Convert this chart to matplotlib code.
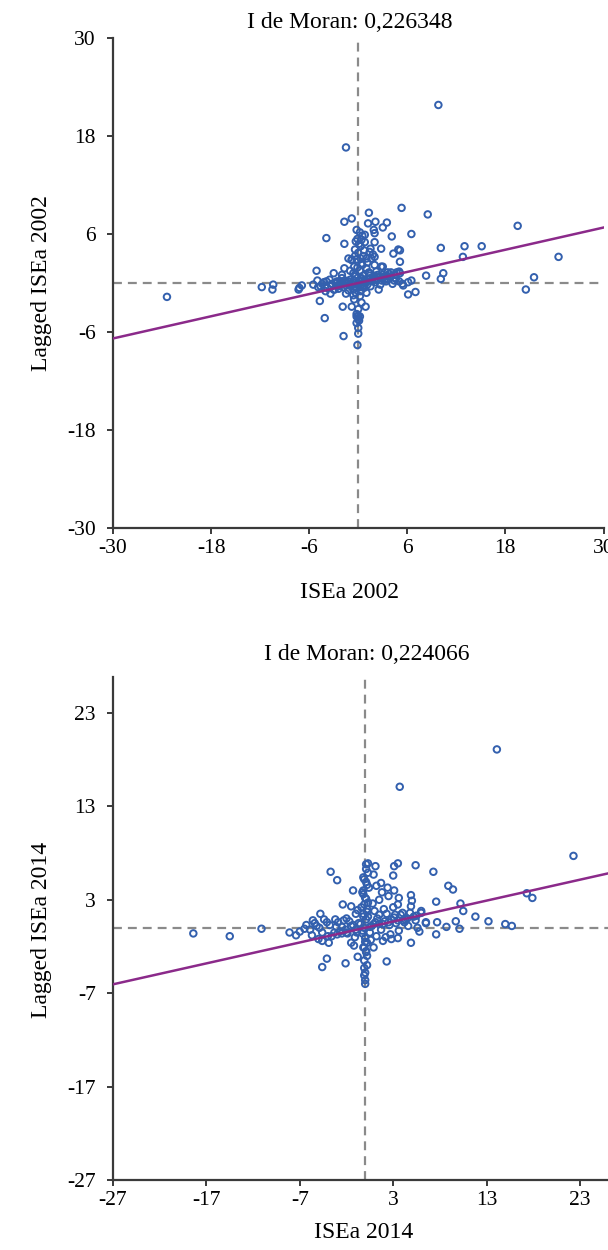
import matplotlib
matplotlib.use("Agg")
import matplotlib.pyplot as plt
import numpy as np

plt.rcParams['font.family'] = ['Liberation Serif', 'DejaVu Serif']
plt.rcParams['axes.unicode_minus'] = False

# ISEa 2002 vs lagged ISEa 2002
x2002 = [9.8, -1.5, -23.4, -11.8, -10.4, -10.5, -7.3, -6.9, 5.3, 8.5, 6.5, 19.5, 10.1, 13.0,
         15.1, 12.8, 8.3, 10.4, 10.1, 21.5, 20.5, 24.5, 5.1, 5.1, 5.1, 6.1, 7.0, 5.4, 6.1, 6.5,
         1.3, -0.8, -1.7, 1.2, 2.1, 3.5, 3.0, 1.9, -0.2, 2.0, 0.8, -3.9, 4.1, 2.0, -1.7, 4.9,
         4.3, 2.0, -0.8, -5.1, -1.7, 2.8, 4.7, -7.2, -4.9, -4.7, -3.4, -1.9, -0.8, 0.9, -4.1,
         -0.2, 0.0, 0.0, 0.0, -1.8, -0.1, 1.4, 1.6, 3.6, -0.8, -0.2, 0.2, 0.0,
         -5.5, -5.0, -4.6, -4.2, -3.8, -3.5, -3.2, -2.9, -2.6, -2.3, -2.0, -1.8, -1.5, -1.2,
         -1.0, -0.7, -0.4, -0.2, 0.1, 0.3, 0.6, 0.9, 1.2, 1.5, 1.8, 2.1, 2.4, 2.7, 3.0, 3.4,
         3.8, 4.2, 4.6, 5.0, 5.5,
         -4.0, -3.0, -2.5, -1.5, -0.5, 0.5, 1.0, 1.5, 2.0, 2.5, 3.0, 3.5, 4.0, 4.5, 5.0,
         -0.3, 0.2, -0.5, 0.4, -0.2, 0.6, 0.0, -0.4, 0.3, 0.8, -0.1, 0.5, 0.2, -0.3, 0.2,
         -0.5, 0.4, 0.0, 0.1, -0.2,
         -2.0, -1.0, 1.0, 2.0, -1.5, 1.0, 2.5, -3.0, 3.0, 1.8, 2.8, 1.0, -1.2, 1.5,
         -2.2, -1.2, 0.4, 1.3, 2.2, 3.2, -0.6, 0.7, -2.7, 1.1,
         -4.4, -3.9, -3.3, -2.8, -2.2, -1.6, -1.3, -0.9, -0.5, 0.0, 0.4, 0.8, 1.1, 1.4,
         1.7, 2.0, 2.3, 2.9, 3.2, 3.6, 4.0, 4.4, -2.4, -1.9, -0.6, 0.2, 0.7, 1.3, 2.2,
         -0.1, 0.5, -0.4, 0.3, 0.7, 0.1, -0.3, 0.4, -0.6, 0.3]
y2002 = [21.8, 16.6, -1.7, -0.5, -0.2, -0.8, -0.8, -0.3, 9.2, 8.4, 6.0, 7.0, 4.3, 4.5,
         4.5, 3.2, 0.9, 1.2, 0.5, 0.7, -0.8, 3.2, 4.0, 2.6, 1.2, -1.4, -1.1, -0.1, 0.1, 0.3,
         8.6, 7.9, 7.5, 7.3, 7.5, 7.4, 6.8, 6.5, 6.5, 6.1, 5.9, 5.5, 5.7, 5.0, 4.8, 4.1,
         3.6, 3.2, 2.9, 1.5, 1.8, 2.0, 1.3, -0.6, -0.5, -2.2, -1.3, -2.9, -2.9, -2.9, -4.3,
         -3.8, -4.0, -5.5, -6.2, -6.5, -7.6, 3.8, 3.0, 1.3, 2.8, -4.1, -4.1, -4.4,
         -0.2, 0.3, -0.4, 0.1, -0.6, 0.4, -0.1, -0.8, 0.2, -0.3, 0.6, -0.5, 0.1, -0.9,
         0.4, -0.2, 0.8, -0.6, 0.2, -0.3, 0.9, 0.0, 0.5, -0.4, 0.7, 0.1, 1.0, -0.2, 0.6, 0.2,
         1.1, -0.1, 0.5, 0.2, -0.3,
         -1.0, -0.8, -0.4, -0.3, 0.0, 0.3, 0.2, 0.6, 0.5, 0.8, 1.0, 0.9, 1.3, 1.0, 1.4,
         1.0, 1.5, 2.0, 2.4, 2.9, 3.3, 3.7, 4.1, 4.5, 5.0, 5.4, 5.8, 6.2, -1.2, -1.6,
         -2.0, -2.4, -3.2, -4.6, -4.9,
         1.0, 1.5, 1.8, 2.2, -1.3, -1.2, -0.8, 1.2, 2.0, 3.5, 4.2, 3.0, 3.0, 4.2,
         -0.1, 0.2, 0.6, 1.2, 0.4, 0.4, 1.2, -0.6, 0.0, 2.5,
         -0.1, 0.2, -0.4, 0.0, 0.1, 0.3, 0.0, -0.4, 0.3, -0.1, 0.5, 0.3, -0.2, 0.9,
         0.2, 0.9, 0.4, 0.3, 0.8, 0.5, 0.8, 0.3, -0.7, -0.1, -0.8, -0.5, -0.3, 1.3, 1.4,
         1.9, 2.2, 3.3, 3.0, 4.0, 4.8, 5.1, 5.3, -1.5, -1.0]

# ISEa 2014 vs lagged ISEa 2014
x2014 = [14.1, 3.7, 22.3, -18.4, -14.5, -11.1, 17.3, 17.9, -8.1, -7.4, -6.5, -5.6, -4.8,
         -3.7, -3.0, -4.6, -3.9, -4.1, -4.6, -2.1, -0.8, -0.1, 0.0, 0.0, 2.3, 1.9, 0.9,
         0.1, 0.3, 1.1, 3.1, 3.5, 5.4, 7.3, 8.9, 9.4, 3.0, 0.9, -1.3, -2.4, -1.5, 1.2, 1.7,
         2.4, 3.1, 3.6, 4.9, 5.0, 4.9, 7.6, 10.2, 10.5, 11.8, 13.2, 9.7, 8.7, 10.1, 7.7,
         6.5, 7.6, 4.9, 3.5, 2.8, -0.2, 15.0, 15.7,
         -7.0, -6.3, -5.7, -5.2, -4.6, -4.1, -3.6, -3.1, -2.7, -2.3, -1.9, -1.5, -1.1,
         -0.7, -0.3, 0.1, 0.5, 0.9, 1.3, 1.7, 2.1, 2.6, 3.1, 3.6, 4.1, 4.6, 5.2, 5.8, 6.5,
         -5.0, -4.0, -3.0, -2.0, -1.0, 0.5, 1.5, 2.5, 3.5, 4.5, 5.5,
         -0.2, 0.2, -0.4, 0.3, 0.0, -0.3, 0.4, 0.1, -0.2, 0.3, 0.0, 0.2, -0.1, 0.1, -0.3,
         0.2, 0.0, -0.1,
         1.0, 2.0, 3.0, 4.0, 1.5, 2.5, 3.5, -1.0, -2.0, 1.2, 2.2, -1.5, -2.5, 0.8, 1.8,
         3.2, 4.2, 6.0, -3.2, -0.8, 2.7, 5.6, -1.2, 0.6,
         -5.9, -5.4, -4.9, -4.4, -3.8, -3.3, -2.9, -2.5, -2.1, -1.7, -1.3, -0.9, -0.5,
         -0.1, 0.3, 0.7, 1.1, 1.5, 1.9, 2.3, 2.8, 3.3, 3.8, 4.3, 4.8, 5.4, 6.0,
         -0.2, 0.2, -0.1, 0.1, -0.2, 0.2, -0.1, 0.1, 0.0, -0.2, 0.1, -0.1, 0.2]
y2014 = [19.1, 15.1, 7.7, -0.6, -0.9, -0.1, 3.7, 3.2, -0.5, -0.8, -0.1, 0.8, 1.5,
         6.0, 5.1, -1.4, -1.6, -3.3, -4.2, -3.8, -3.1, -4.3, -5.6, -6.0, -3.6, -1.4, -2.1,
         6.8, 6.9, 6.6, 6.6, 6.9, 6.7, 6.0, 4.5, 4.1, 5.6, 5.7, 4.0, 2.5, 2.3, 4.5, 4.8,
         4.3, 4.0, 3.2, 3.5, 2.9, 2.3, 2.8, 2.6, 1.8, 1.2, 0.7, 0.7, 0.1, -0.1, 0.6,
         0.6, -0.7, -1.6, -1.1, -1.2, 3.6, 0.4, 0.2,
         -0.4, 0.3, -0.8, 0.2, -0.5, 0.6, -0.9, 0.1, -0.4, 0.8, -0.6, 0.2, -1.0,
         0.5, -0.3, 0.9, -0.5, 0.4, 1.0, -0.2, 0.7, 0.3, 1.1, -0.3, 0.8, 0.2, 1.2, -0.4, 0.5,
         -1.2, -0.9, -0.7, -0.5, -0.2, 0.1, 0.4, 0.6, 0.8, 1.0, 1.3,
         1.2, 1.7, 2.2, 2.7, 3.2, 3.8, 4.3, 4.9, 5.4, 5.9, -1.1, -1.6, -2.1, -2.6, -0.6,
         -3.0, -4.8, -5.1,
         1.8, 2.0, 2.2, 1.6, 3.0, 3.4, 2.5, 1.5, 1.0, -0.9, -1.0, -1.6, -0.6, 2.6, 3.8,
         1.4, 0.6, 1.8, 0.9, 1.9, -0.7, 0.0, -1.9, -1.3,
         -0.2, 0.5, 0.0, 0.9, 0.3, -0.5, 0.6, 0.1, -0.2, 0.7, 0.3, -0.5, 0.4,
         0.0, 1.2, 0.2, 0.6, 1.4, 0.4, 1.5, 0.9, 0.5, 1.4, 0.9, 1.6, 0.8, 1.6,
         1.5, 2.0, 2.5, 3.1, 4.0, 4.6, 5.2, 6.3, -1.5, -2.1, -2.5, -3.5, -4.0]

moran_2002 = 0.226348
moran_2014 = 0.224066
mean_x, mean_y = 0.0, 0.0

panels = [
    dict(x=x2002, y=y2002, slope=moran_2002, year='2002',
         lim=(-30, 30), ylim=(-30, 30), ticks=[-30, -18, -6, 6, 18, 30],
         rect=[113/608, 1-528/1250, 490.5/608, 490/1250],
         title_xy=(350/608, 1-22/1250), xlab_xy=(350/608, 1-592/1250), ylab_xy=(42/608, 1-283/1250)),
    dict(x=x2014, y=y2014, slope=moran_2014, year='2014',
         lim=(-27, 33), ylim=(-27, 26.8), ticks=[-27, -17, -7, 3, 13, 23, 33],
         rect=[113/608, 1-1180/1250, 560.4/608, 502.5/1250],
         title_xy=(367/608, 1-655/1250), xlab_xy=(364/608, 1-1232/1250), ylab_xy=(42/608, 1-930/1250)),
]

fig = plt.figure(figsize=(6.08, 12.5), dpi=100)

for p in panels:
    ax = fig.add_axes(p['rect'])
    ax.set_xlim(p['lim'])
    ax.set_ylim(p['ylim'])
    ax.axvline(mean_x, color='#8a8a8a', lw=1.6, dashes=(4, 2.7), zorder=1)
    ax.axhline(mean_y, color='#8a8a8a', lw=1.6, dashes=(4, 2.7), zorder=1)
    ax.scatter(p['x'], p['y'], s=22, facecolors='none', edgecolors='#3360ae',
               linewidths=1.4, zorder=2)
    xl = np.array(p['lim'])
    ax.plot(xl, p['slope'] * xl, color='#8b2a8a', lw=1.8, zorder=3)

    ax.set_xticks(p['ticks'])
    ax.set_yticks([t for t in p['ticks'] if t <= p['ylim'][1]])
    for s in ['top', 'right']:
        ax.spines[s].set_visible(False)
    for s in ['left', 'bottom']:
        ax.spines[s].set_color('#3a3a3a')
        ax.spines[s].set_linewidth(1.6)
    ax.tick_params(axis='both', labelsize=15.5, color='#3a3a3a', width=1.4, length=4.5)
    ax.tick_params(axis='y', pad=8)
    ax.tick_params(axis='x', pad=3.5)

    fig.text(*p['title_xy'], 'I de Moran: ' + f"{p['slope']:.6f}".replace('.', ','),
             fontsize=17, ha='center', va='center')
    fig.text(*p['xlab_xy'], 'ISEa ' + p['year'], fontsize=17, ha='center', va='center')
    fig.text(*p['ylab_xy'], 'Lagged ISEa ' + p['year'], fontsize=17, ha='center',
             va='center', rotation=90)

fig.savefig('out.png', dpi=100)
